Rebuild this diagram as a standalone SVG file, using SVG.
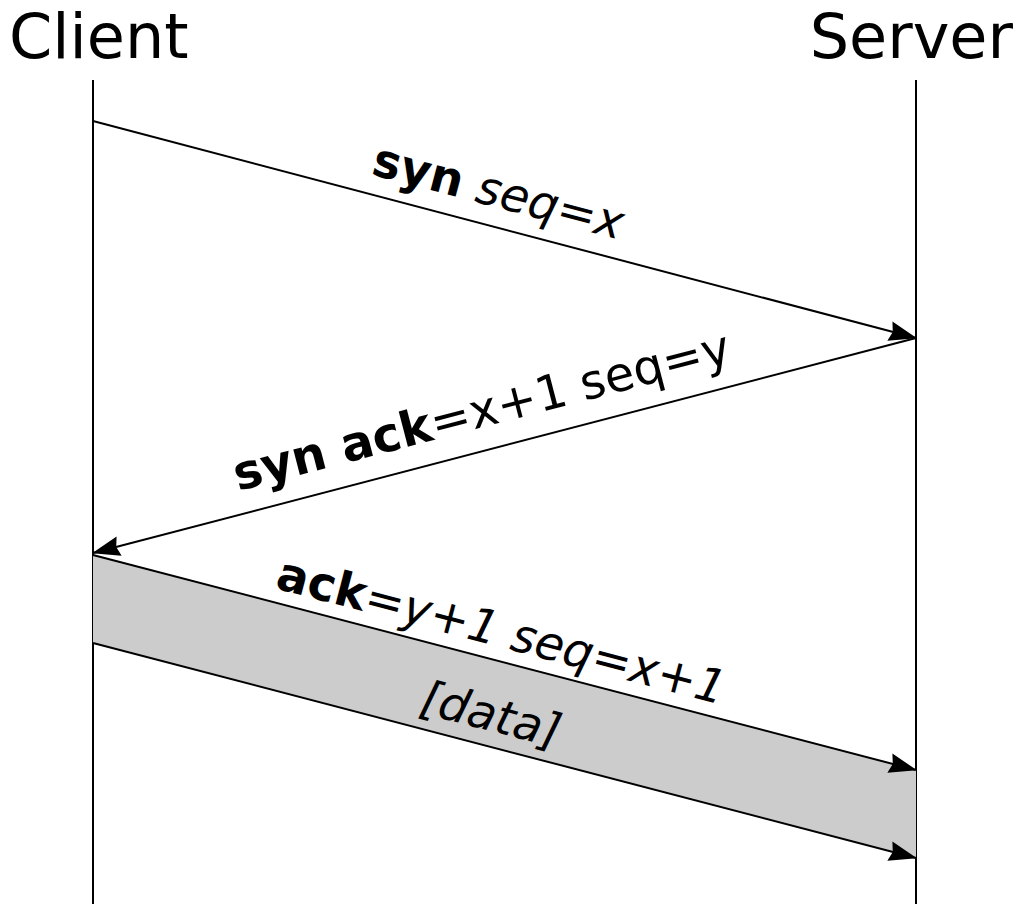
<svg xmlns="http://www.w3.org/2000/svg" width="1019" height="904" viewBox="0 0 1019 904">
<style>
.life{stroke:#000;stroke-width:2;fill:none}
.msg{stroke:#000;stroke-width:2;fill:none;marker-end:url(#ah)}
.hdr{font-family:"DejaVu Sans",sans-serif;font-size:62px;fill:#000}
.lbl{font-family:"DejaVu Sans",sans-serif;font-size:47px;fill:#000}
.b{font-weight:bold}
.i{font-style:oblique}
</style>
<defs>
<marker id="ah" viewBox="0 0 28 22" refX="27" refY="11" markerWidth="28" markerHeight="22" markerUnits="userSpaceOnUse" orient="auto">
<path d="M0,1 L28,11 L0,21 L3,11 Z" fill="#000"/>
</marker>
</defs>
<g id="client">
<text class="hdr" x="9" y="58">Client</text>
<line class="life" x1="93" y1="80" x2="93" y2="904"/>
</g>
<g id="server">
<text class="hdr" x="1013" y="58" text-anchor="end">Server</text>
<line class="life" x1="916" y1="80" x2="916" y2="904"/>
</g>
<g id="data-band">
<polygon points="93,555 916,770 916,858 93,643" fill="#cccccc"/>
</g>
<g id="connectors">
<line class="msg" x1="93" y1="121" x2="916" y2="338"/>
<line class="msg" x1="916" y1="338" x2="93" y2="553"/>
<line class="msg" x1="93" y1="555" x2="916" y2="770"/>
<line class="msg" x1="93" y1="643" x2="916" y2="858"/>
</g>
<g id="labels">
<text class="lbl" transform="translate(370,174) rotate(14.77)"><tspan class="b">syn</tspan> <tspan class="i">seq=x</tspan></text>
<text class="lbl" transform="translate(238,491) rotate(-14.6)" style="font-size:48px"><tspan class="b">syn ack</tspan>=x+1 seq=y</text>
<text class="lbl" transform="translate(274,588) rotate(14.64)"><tspan class="b">ack</tspan><tspan class="i">=y+1 seq=x+1</tspan></text>
<text class="lbl i" transform="translate(418,712) rotate(14.64)">[data]</text>
</g>
</svg>
